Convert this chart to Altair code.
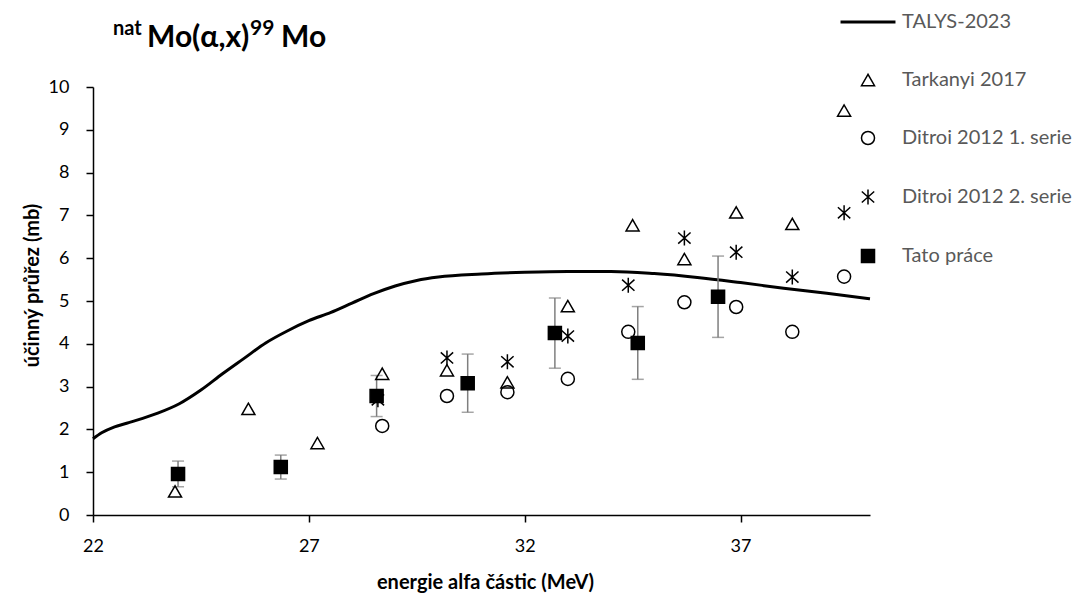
import altair as alt
import pandas as pd

# ---- data ----
talys_E = [22.0, 22.2, 22.5, 22.8, 23.0, 23.5, 24.0, 24.5, 25.0, 25.5, 26.0, 26.5, 27.0, 27.5,
           28.0, 28.5, 29.0, 29.5, 30.0, 31.0, 32.0, 33.0, 34.0, 35.0, 36.0, 37.0, 38.0, 39.0, 40.0]
talys_s = [1.78, 1.92, 2.06, 2.15, 2.21, 2.38, 2.6, 2.92, 3.3, 3.66, 4.02, 4.3, 4.54, 4.73,
           4.95, 5.17, 5.35, 5.48, 5.56, 5.63, 5.67, 5.69, 5.69, 5.64, 5.55, 5.43, 5.3, 5.18, 5.05]

tark_E = [23.9, 25.6, 27.2, 28.7, 30.2, 31.6, 33.0, 34.5, 35.7, 36.9, 38.2, 39.4]
tark_s = [0.55, 2.48, 1.68, 3.3, 3.38, 3.1, 4.88, 6.77, 5.98, 7.07, 6.8, 9.45]

dit1_E = [28.7, 30.2, 31.6, 33.0, 34.4, 35.7, 36.9, 38.2, 39.4]
dit1_s = [2.08, 2.78, 2.87, 3.18, 4.28, 4.97, 4.86, 4.28, 5.57]

dit2_E = [28.6, 30.2, 31.6, 33.0, 34.4, 35.7, 36.9, 38.2, 39.4]
dit2_s = [2.69, 3.67, 3.58, 4.18, 5.37, 6.47, 6.14, 5.56, 7.06]

tato_E = [23.97, 26.35, 28.57, 30.68, 32.7, 34.62, 36.48]
tato_s = [0.96, 1.12, 2.78, 3.08, 4.25, 4.02, 5.1]
tato_err = [0.3, 0.28, 0.48, 0.68, 0.82, 0.85, 0.95]

series = ["TALYS-2023", "Tarkanyi 2017", "Ditroi 2012 1. serie", "Ditroi 2012 2. serie", "Tato práce"]
title_parts = ["nat", "Mo(α,x)", "99", "Mo"]
x_ticks = [22, 27, 32, 37]
y_ticks = list(range(0, 11))
x_title = "energie alfa částic (MeV)"
y_title = "účinný průřez (mb)"

# ---- tables ----
talys = pd.DataFrame({"E": talys_E, "s": talys_s})
points = pd.concat([
    pd.DataFrame({"E": tark_E, "s": tark_s, "series": series[1]}),
    pd.DataFrame({"E": dit1_E, "s": dit1_s, "series": series[2]}),
    pd.DataFrame({"E": dit2_E, "s": dit2_s, "series": series[3]}),
    pd.DataFrame({"E": tato_E, "s": tato_s, "series": series[4]}),
], ignore_index=True)
tato = pd.DataFrame({"E": tato_E, "s": tato_s, "err": tato_err})
tato["lo"] = tato["s"] - tato["err"]
tato["hi"] = tato["s"] + tato["err"]

FONT = "Lato"
star = "M0,-1.15L0,1.15M-0.95,-0.85L0.95,0.85M-0.95,0.85L0.95,-0.85"
long_line = "M-4.1,-0.1L4.1,-0.1L4.1,0.1L-4.1,0.1Z"

xs = alt.Scale(domain=[22, 40], nice=False, zero=False)
ys = alt.Scale(domain=[0, 10], nice=False)

x_axis = alt.Axis(values=x_ticks, grid=False, title=x_title, titleX=392, titleY=67,
                  titleAlign="center", titleBaseline="middle", labelFlush=False)
y_axis = alt.Axis(values=y_ticks, grid=False, title=y_title, titleX=-61, titleY=198,
                  titleAlign="center", titleBaseline="middle", titleAngle=-90)

X = alt.X("E:Q", scale=xs, axis=x_axis)
Y = alt.Y("s:Q", scale=ys, axis=y_axis)

line = alt.Chart(talys).mark_line(color="black", strokeWidth=3, interpolate="monotone").encode(x=X, y=Y)

err_rule = alt.Chart(tato).mark_rule(color="#7f7f7f", strokeWidth=1.5).encode(
    x="E:Q", y="lo:Q", y2="hi:Q")
cap_lo = alt.Chart(tato).mark_tick(color="#7f7f7f", thickness=1.5, size=12, orient="horizontal").encode(
    x="E:Q", y="lo:Q")
cap_hi = alt.Chart(tato).mark_tick(color="#7f7f7f", thickness=1.5, size=12, orient="horizontal").encode(
    x="E:Q", y="hi:Q")

leg = alt.Legend(title=None, orient="none", legendX=765, legendY=-75,
                 labelFontSize=20, labelColor="#595959", labelFont=FONT, labelLimit=400,
                 rowPadding=38, labelOffset=24, symbolStrokeColor="black",
                 symbolStrokeWidth=1.5, symbolSize=170)

pts = alt.Chart(points).mark_point(opacity=1, strokeWidth=1.5, size=170).encode(
    x="E:Q", y="s:Q",
    shape=alt.Shape("series:N", scale=alt.Scale(domain=series,
                    range=[long_line, "triangle-up", "circle", star, "square"]), legend=leg),
    fill=alt.Fill("series:N", scale=alt.Scale(domain=series,
                  range=["black", "transparent", "transparent", "transparent", "black"]), legend=leg),
    stroke=alt.Stroke("series:N", scale=alt.Scale(domain=series,
                      range=["black", "black", "black", "black", "black"]), legend=leg),
)

def ttext(i, x, y, size):
    return alt.Chart(pd.DataFrame({"t": [title_parts[i]]})).mark_text(
        font=FONT, fontWeight="bold", fontSize=size, align="left", baseline="alphabetic", color="black"
    ).encode(text="t:N", x=alt.value(x), y=alt.value(y))

titles = ttext(0, 20, -52, 20) + ttext(1, 54, -40, 30) + ttext(2, 157, -52, 21) + ttext(3, 188, -40, 30)

chart = alt.layer(line, err_rule, cap_lo, cap_hi, pts, titles).properties(
    width=777, height=428,
    autosize=alt.AutoSizeParams(type="none"),
    padding={"left": 93, "top": 87, "right": 220, "bottom": 80},
).configure(font=FONT).configure_view(stroke=None).configure_axis(
    domainColor="black", domainWidth=1.5, tickColor="black", tickWidth=1.5, tickSize=7,
    labelFont=FONT, labelFontSize=18, labelColor="black", labelPadding=15,
    titleFont=FONT, titleFontSize=20, titleFontWeight="bold", titleColor="black",
).configure_axisY(labelPadding=17)

chart.save("out.html", embed_options={"renderer": "svg", "actions": False})
